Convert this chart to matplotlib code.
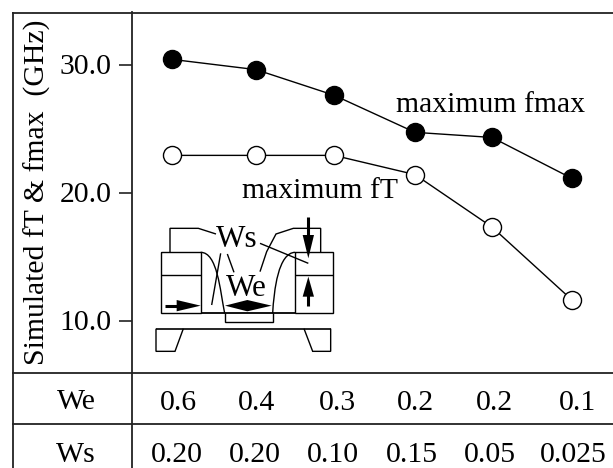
import numpy as np
import matplotlib
matplotlib.use("Agg")
import matplotlib.pyplot as plt
from matplotlib.patches import PathPatch, Polygon
from matplotlib.path import Path

# column positions are in image pixels, the points are not quite evenly spaced
x_pos = [172, 256, 334, 415, 492, 572]
fmax = [30.4, 29.6, 27.6, 24.7, 24.3, 21.1]
ft = [22.9, 22.9, 22.9, 21.4, 17.3, 11.6]
yticks = [10.0, 20.0, 30.0]
we = ["0.6", "0.4", "0.3", "0.2", "0.2", "0.1"]
ws = ["0.20", "0.20", "0.10", "0.15", "0.05", "0.025"]
we_x = [178, 257, 337, 415, 494, 577]
ws_x = [177, 255, 333, 412, 490, 573]

plt.rcParams["font.family"] = ["Liberation Serif", "DejaVu Serif"]
W, H = 613, 468
FS = 21.4
LC = "#222222"

fig = plt.figure(figsize=[W/100, H/100], dpi=100)

# data axes
ax = fig.add_axes([132/W, 1-372/H, (W-132)/W, 360/H])
ax.set_xlim(132, W)
ax.set_ylim(10-51.5/12.8, 30+52.5/12.8)
ax.plot(x_pos, fmax, "-", color="k", lw=1.0, marker="o", ms=13, mfc="k", mec="k", mew=1.0, clip_on=False)
ax.plot(x_pos, ft, "-", color="k", lw=1.0, marker="o", ms=13, mfc="w", mec="k", mew=1.0, clip_on=False)
ax.set_xticks([])
ax.set_yticks(yticks)
ax.set_yticklabels(["%.1f" % v for v in yticks])
ax.tick_params(axis="y", labelsize=FS, length=9.4, width=1.2, pad=5.5, color=LC)
for k in ["top", "right", "bottom"]:
    ax.spines[k].set_visible(False)
ax.spines["left"].set_linewidth(1.3)
ax.spines["left"].set_color(LC)

# overlay in image pixels for the table frame and the inset sketch
ov = fig.add_axes([0, 0, 1, 1], facecolor="none")
ov.set_xlim(0, W)
ov.set_ylim(H, 0)
ov.axis("off")

def ln(xs, ys, lw=1.0, c="k"):
    ov.plot(xs, ys, "-", color=c, lw=lw, solid_capstyle="butt", solid_joinstyle="miter")

# frame and table
ln([12.5, 12.5], [12, H], 1.3, LC)
ln([12, W], [12.5, 12.5], 1.3, LC)
ln([12, W], [372.5, 372.5], 1.3, LC)
ln([12, W], [423.5, 423.5], 1.3, LC)
ln([132, 132], [372, H], 1.3, LC)

ov.text(37, 192, "Simulated fT & fmax  (GHz)", rotation=90, fontsize=FS, ha="center", va="center")
ov.text(490, 105, "maximum fmax", fontsize=FS, ha="center", va="center")
ov.text(320, 191, "maximum fT", fontsize=FS, ha="center", va="center")

ov.text(76, 409, "We", fontsize=FS, ha="center", va="baseline")
ov.text(76, 462, "Ws", fontsize=FS, ha="center", va="baseline")
for xp, s in zip(we_x, we):
    ov.text(xp, 409.5, s, fontsize=FS, ha="center", va="baseline")
for xp, s in zip(ws_x, ws):
    ov.text(xp, 462, s, fontsize=FS, ha="center", va="baseline")

# transistor sketch, coordinates taken from the 3x crop
def zx(v):
    return 130+np.array(v)/3
def zy(v):
    return 210+np.array(v)/3
def zl(xs, ys, lw=1.0):
    ln(zx(xs), zy(ys), lw)

zl([92, 212, 212, 92, 92], [127, 127, 310, 310, 127], 1.0)
zl([92, 212], [195, 195])
zl([496, 610, 610, 496, 496], [127, 127, 310, 310, 127], 1.0)
zl([496, 610], [195, 195])
zl([212, 496], [309, 309], 1.3)
zl([284, 284, 428, 428], [310, 337, 337, 310])
zl([78, 602], [356, 356], 1.2)
zl([160, 135, 78, 78], [356, 424, 424, 356])
zl([522, 548, 602, 602], [356, 424, 424, 356])

for p in [[(212, 127), (262, 127), (270, 240), (284, 310)],
          [(496, 127), (445, 127), (432, 240), (428, 310)]]:
    verts = [(zx(a), zy(b)) for a, b in p]
    ov.add_patch(PathPatch(Path(verts, [Path.MOVETO, Path.CURVE4, Path.CURVE4, Path.CURVE4]),
                           fc="none", ec="k", lw=1.0))

zl([120, 120, 205, 258], [127, 55, 55, 72])
zl([390, 410, 438, 490, 572, 572], [185, 125, 72, 55, 55, 127])
zl([245, 272], [285, 130])
zl([312, 292], [187, 132])
zl([390, 535], [100, 160])

# arrows
def head(pts):
    ov.add_patch(Polygon([(zx(a), zy(b)) for a, b in pts], closed=True, fc="k", ec="none"))

zl([105, 145], [287, 287], 2.2)
head([(212, 287), (140, 270), (140, 304)])
head([(285, 287), (352, 270), (425, 287), (352, 304)])
zl([535, 535], [20, 80], 2.2)
head([(535, 145), (518, 75), (552, 75)])
zl([535, 535], [287, 255], 2.2)
head([(535, 200), (518, 260), (552, 260)])

ov.text(zx(320), zy(112), "Ws", fontsize=FS+1, ha="center", va="baseline")
ov.text(zx(350), zy(257), "We", fontsize=FS+1, ha="center", va="baseline")

fig.savefig("out.png", dpi=100)
